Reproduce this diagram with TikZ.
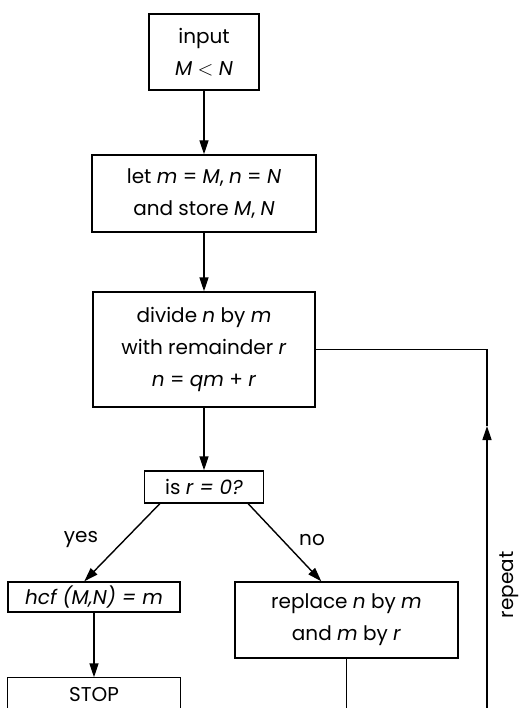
\documentclass[tikz,border=0pt]{standalone}
\usepackage{fontspec}
\setmainfont{Poppins}
\usetikzlibrary{arrows.meta}
\begin{document}
\begin{tikzpicture}[x=1pt,y=-1pt,
  box/.style={draw, line width=1.4pt, align=center, inner sep=0pt,
    font=\fontsize{20}{32}\selectfont},
  lbl/.style={inner sep=0pt, font=\fontsize{20}{32}\selectfont},
  conn/.style={line width=1.4pt},
  arr/.style={conn, -{Triangle[length=14pt,width=9pt]}}]
\useasboundingbox (0,0) rectangle (522,708);
\clip (0,0) rectangle (522,708);
\node[box, minimum width=110pt, minimum height=76pt] (input) at (204,52) {input\\\textit{M} $<$ \textit{N}};
\node[box, minimum width=224pt, minimum height=77pt] (let) at (204,193.5) {let \textit{m} = \textit{M}, \textit{n} = \textit{N}\\and store \textit{M}, \textit{N}};
\node[box, minimum width=222pt, minimum height=115pt] (divide) at (204,349.5) {divide \textit{n} by \textit{m}\\with remainder \textit{r}\\\textit{n} = \textit{qm} + \textit{r}};
\node[box, minimum width=119pt, minimum height=32pt] (isr) at (204,487) {is \textit{r = 0?}};
\node[box, minimum width=172pt, minimum height=30pt] (hcf) at (94,597) {\textit{hcf (M,N) = m}};
\node[box, draw=none, minimum width=172pt, minimum height=34pt] (stop) at (94,695) {STOP};
\node[box, minimum width=223pt, minimum height=76pt] (replace) at (346.5,620) {replace \textit{n} by \textit{m}\\and \textit{m} by \textit{r}};
\node[lbl, rotate=90] (rep) at (509,585) {repeat};
\node[lbl] (yes) at (81,540) {yes};
\node[lbl] (no) at (312,540) {no};
\coordinate (rb) at (487,715);
\coordinate (rm) at (487,426);
\coordinate (replb) at (346.5,715);
\draw[conn] (stop.south west) |- (stop.north east) -- (stop.south east);
\draw[arr] (input.south) -- (let.north);
\draw[arr] (let.south) -- (divide.north);
\draw[arr] (divide.south) -- (isr.north);
\draw[arr] (hcf.south) -- (stop.north);
\draw[arr] ([xshift=16pt]isr.south west) -- ([xshift=77pt]hcf.north west);
\draw[arr] ([xshift=-16pt]isr.south east) -- ([xshift=87pt]replace.north west);
\draw[conn] (replace.south) -- (replb);
\draw[arr] (rb) -- (rm);
\draw[conn] (rm) -- (divide.east -| rb) -- (divide.east);
\end{tikzpicture}
\end{document}
